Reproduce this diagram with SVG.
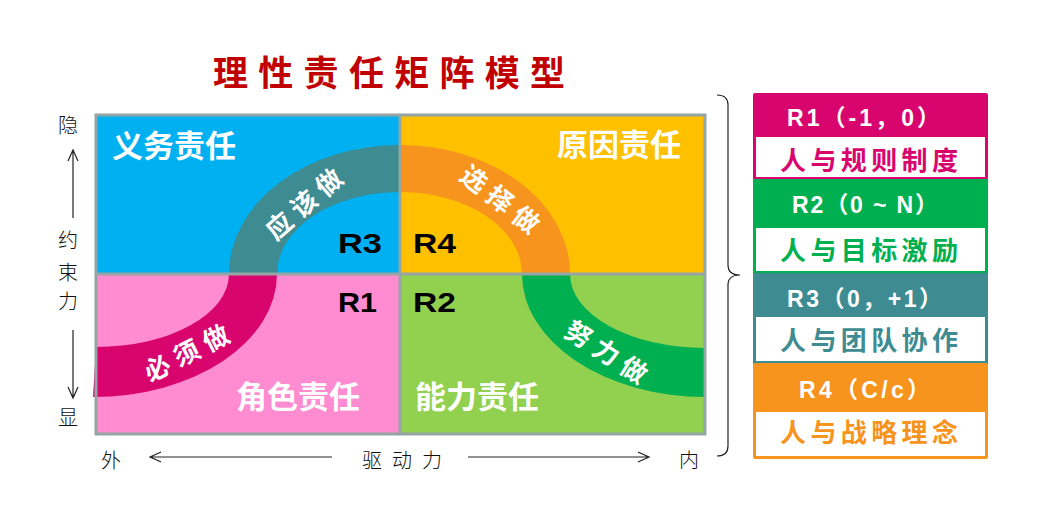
<svg xmlns="http://www.w3.org/2000/svg" width="1040" height="531" viewBox="0 0 1040 531">
<style>
.cjk{font-family:"Noto Sans CJK SC","Noto Sans",sans-serif}
.ax{font-family:"Noto Sans CJK SC",sans-serif;font-size:20px;fill:#111;font-weight:300}
.qt{font-family:"Noto Sans CJK SC",sans-serif;font-size:31px;fill:#fff;font-weight:700}
.arc{font-family:"Noto Sans CJK SC",sans-serif;font-size:26px;fill:#fff;font-weight:700;letter-spacing:7px}
.rl{font-family:"Liberation Sans",Arial,sans-serif;font-size:28px;font-weight:700;fill:#000}
.hd{font-family:"Liberation Sans","Noto Sans CJK SC",sans-serif;font-size:23px;font-weight:700;fill:#fff}
.bd{font-family:"Noto Sans CJK SC",sans-serif;font-size:26px;font-weight:700;letter-spacing:4.4px}
.axl{stroke:#222;stroke-width:1.2;fill:none}
.grid{stroke:#95a5a6;stroke-width:3;fill:none}
</style>
<rect width="1040" height="531" fill="#fff"/>
<g id="title"><text class="cjk" x="213" y="86" font-size="35" font-weight="700" fill="#c00000" letter-spacing="10.3">理性责任矩阵模型</text></g>

<g id="quadrants">
<rect x="96" y="115" width="304" height="159" fill="#00b0f0"/>
<rect x="400" y="115" width="305" height="159" fill="#ffc000"/>
<rect x="96" y="274" width="304" height="160" fill="#ff8bd0"/>
<rect x="400" y="274" width="305" height="160" fill="#92d050"/>
</g>

<g id="bands">
<path d="M229,274 A171,129 0 0 1 400,145 L400,192 A123,82 0 0 0 277,274 Z" fill="#3e8c91"/>
<path d="M400,145 A170,129 0 0 1 570,274 L522,274 A122,82 0 0 0 400,192 Z" fill="#f7941d"/>
<path d="M229,274 A133,73 0 0 1 96,347 L93,397 A184,123 0 0 0 277,274 Z" fill="#d9056f"/>
<path d="M570,274 A135,74 0 0 0 705,348 L706,397 A184,123 0 0 1 522,274 Z" fill="#00b050"/>
</g>

<g id="grid">
<rect class="grid" x="96" y="115" width="609" height="319"/>
<line class="grid" x1="400" y1="115" x2="400" y2="434"/>
<line class="grid" x1="96" y1="274" x2="705" y2="274"/>
</g>

<g id="quadrant-titles">
<text class="qt" x="112" y="157">义务责任</text>
<text class="qt" x="557" y="156">原因责任</text>
<text class="qt" x="236" y="408">角色责任</text>
<text class="qt" x="415" y="408">能力责任</text>
</g>

<g id="arc-labels">
<text class="arc" text-anchor="middle" transform="translate(313,209) rotate(-41)">应该做</text>
<text class="arc" text-anchor="middle" transform="translate(497,209) rotate(38)">选择做</text>
<text class="arc" text-anchor="middle" transform="translate(194,360) rotate(-27)">必须做</text>
<text class="arc" text-anchor="middle" transform="translate(604,362) rotate(33)">努力做</text>
</g>

<g id="r-labels">
<text class="rl" x="338" y="253" textLength="44" lengthAdjust="spacingAndGlyphs">R3</text>
<text class="rl" x="413" y="253" textLength="43" lengthAdjust="spacingAndGlyphs">R4</text>
<text class="rl" x="338" y="312" textLength="39" lengthAdjust="spacingAndGlyphs">R1</text>
<text class="rl" x="413" y="312" textLength="43" lengthAdjust="spacingAndGlyphs">R2</text>
</g>

<g id="axes">
<text class="ax" x="68" y="133" text-anchor="middle">隐</text>
<text class="ax" x="68" y="248" text-anchor="middle">约</text>
<text class="ax" x="68" y="280" text-anchor="middle">束</text>
<text class="ax" x="68" y="309" text-anchor="middle">力</text>
<text class="ax" x="68" y="425" text-anchor="middle">显</text>
<text class="ax" x="111" y="468" text-anchor="middle">外</text>
<text class="ax" x="362" y="468" letter-spacing="10">驱动力</text>
<text class="ax" x="689" y="468" text-anchor="middle">内</text>
</g>

<g id="connectors">
<path class="axl" d="M73,218 V150 M68,161 L73,150 L78,161"/>
<path class="axl" d="M73,330 V398 M68,387 L73,398 L78,387"/>
<path class="axl" d="M332,457 H150 M161,452 L150,457 L161,462"/>
<path class="axl" d="M468,457 H649 M638,452 L649,457 L638,462"/>
<path class="axl" d="M717,95 Q728,95 728,105 V265 Q728,275 740,275 Q728,275 728,285 V446 Q728,456 717,456"/>
</g>

<g id="r1-box">
<rect x="753" y="93" width="235" height="87" rx="2" fill="#d9056f"/>
<rect x="756" y="137" width="229" height="40" fill="#fff"/>
<text class="hd" x="787" y="126" textLength="153" lengthAdjust="spacing">R1（-1，0）</text>
<text class="bd" x="780" y="170" fill="#d9056f">人与规则制度</text>
</g>
<g id="r2-box">
<rect x="753" y="179" width="235" height="95" fill="#00b050"/>
<rect x="756" y="228" width="229" height="43" fill="#fff"/>
<text class="hd" x="792" y="213" textLength="146" lengthAdjust="spacing">R2（0 ~ N）</text>
<text class="bd" x="780" y="260" fill="#00b050">人与目标激励</text>
</g>
<g id="r3-box">
<rect x="753" y="273" width="235" height="91" fill="#3e8c91"/>
<rect x="756" y="317" width="229" height="44" fill="#fff"/>
<text class="hd" x="787" y="307" textLength="155" lengthAdjust="spacing">R3（0，+1）</text>
<text class="bd" x="780" y="350" fill="#3e8c91">人与团队协作</text>
</g>
<g id="r4-box">
<rect x="753" y="363" width="235" height="96" rx="2" fill="#f7941d"/>
<rect x="756" y="412" width="229" height="44" fill="#fff"/>
<text class="hd" x="799" y="398" textLength="131" lengthAdjust="spacing">R4（C/c）</text>
<text class="bd" x="780" y="442" fill="#f7941d">人与战略理念</text>
</g>
</svg>
